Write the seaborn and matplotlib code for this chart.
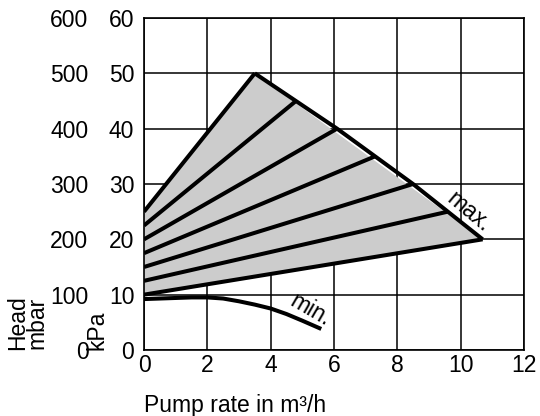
import numpy as np
import pandas as pd
import matplotlib
matplotlib.use("Agg")
import matplotlib.pyplot as plt
import seaborn as sns

# Data
intercepts_kpa = [25, 22.5, 20, 17.5, 15, 12.5, 10]
max_flow = [3.5, 4.8, 6.1, 7.3, 8.5, 9.6, 10.7]
max_head = [50, 45, 40, 35, 30, 25, 20]
min_flow = [0, 0.5, 1.0, 1.5, 2.0, 2.5, 3.0, 3.5, 4.0, 4.5, 5.0, 5.6]
min_head = [9.2, 9.3, 9.4, 9.5, 9.5, 9.3, 8.8, 8.2, 7.5, 6.5, 5.3, 3.8]
x_ticks = [0, 2, 4, 6, 8, 10, 12]
kpa_ticks = [0, 10, 20, 30, 40, 50, 60]
mbar_ticks = [0, 100, 200, 300, 400, 500, 600]

sns.set_theme(style="white")
plt.rcParams['font.family'] = ['Liberation Sans', 'DejaVu Sans']
FS = 16.5

fig = plt.figure(figsize=(5.4, 4.16), dpi=100)
ax = fig.add_axes([0.2667, 0.1587, 0.7033, 0.798])

rows = []
for i, (b, fx, fy) in enumerate(zip(intercepts_kpa, max_flow, max_head)):
    rows.append(dict(line=i, flow=0.0, head=b))
    rows.append(dict(line=i, flow=fx, head=fy))
fan = pd.DataFrame(rows)

poly_x = [0, 0, max_flow[0], max_flow[-1]]
poly_y = [intercepts_kpa[-1], intercepts_kpa[0], max_head[0], max_head[-1]]
ax.fill(poly_x, poly_y, color="#cccccc", zorder=1, lw=0)

lw = 2.9
sns.lineplot(data=fan, x="flow", y="head", units="line", estimator=None,
             color="black", lw=lw, ax=ax, zorder=3, legend=False)
sns.lineplot(x=max_flow, y=max_head, color="black", lw=lw, ax=ax, zorder=3,
             sort=False)
sns.lineplot(x=min_flow, y=min_head, color="black", lw=lw, ax=ax, zorder=3,
             sort=False)
for l in ax.lines:
    l.set_solid_capstyle('butt')
    l.set_solid_joinstyle('miter')

ax.set_xlim(0, 12)
ax.set_ylim(0, 60)
ax.set_xticks(x_ticks)
ax.set_yticks(kpa_ticks)
ax.set_xticklabels([str(t) for t in x_ticks], fontsize=FS)
ax.set_yticklabels([str(t) for t in kpa_ticks], fontsize=FS)
ax.tick_params(axis='both', length=0, colors='black')
ax.tick_params(axis='x', pad=3)
ax.tick_params(axis='y', pad=7)
ax.grid(True, color='black', lw=1.1)
for s in ax.spines.values():
    s.set_color('black')
    s.set_linewidth(1.2)

sec = ax.secondary_yaxis('left', functions=(lambda y: y * 10, lambda y: y / 10))
sec.set_yticks(mbar_ticks)
sec.set_yticklabels([str(t) for t in mbar_ticks], fontsize=FS)
sec.tick_params(length=0, pad=40, colors='black')
sec.spines['left'].set_visible(False)

ax.set_xlabel("Pump rate in m³/h", fontsize=FS, loc='left', labelpad=12, color='black')
ax.set_ylabel("")

ax.text(-0.308, 0.0, "Head\nmbar", transform=ax.transAxes, rotation=90,
        ha='center', va='bottom', fontsize=FS, linespacing=0.8, color='black')
ax.text(-0.124, 0.0, "kPa", transform=ax.transAxes, rotation=90,
        ha='center', va='bottom', fontsize=FS, color='black')

ax.text(10.25, 24.9, "max.", rotation=-40, ha='center', va='center',
        fontsize=FS, color='black')
ax.text(5.25, 7.2, "min.", rotation=-30, ha='center', va='center',
        fontsize=FS, color='black')

fig.savefig("out.png", dpi=100, facecolor='white')
